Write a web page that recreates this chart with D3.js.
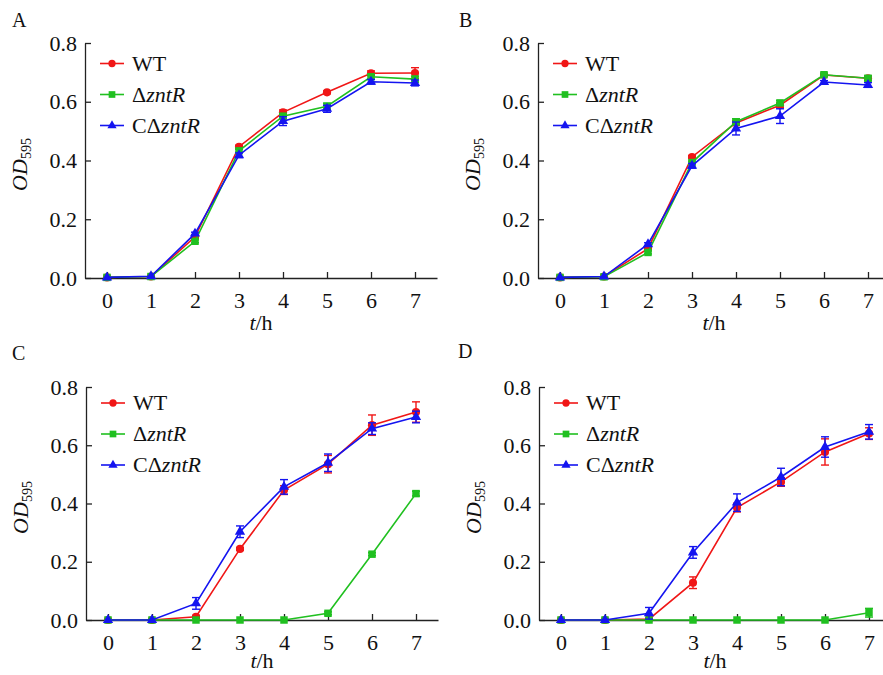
<!DOCTYPE html>
<html>
<head>
<meta charset="UTF-8">
</head>
<body style="margin:0">
<script src="https://d3js.org/d3.v7.min.js"></script>
<script>
// time points and series names
const hours = [0, 1, 2, 3, 4, 5, 6, 7];
const yTicks = [0, 0.2, 0.4, 0.6, 0.8];
const panelNames = ["A", "B", "C", "D"];

// panel A
const wtA   = [0.002, 0.005, 0.140, 0.447, 0.564, 0.632, 0.697, 0.698];
const wtAErr = [0, 0, 0.005, 0.005, 0.008, 0.005, 0.008, 0.018];
const dA    = [0.002, 0.005, 0.125, 0.433, 0.551, 0.585, 0.685, 0.677];
const dAErr = [0, 0, 0.005, 0.005, 0.008, 0.010, 0.008, 0.010];
const cA    = [0.002, 0.006, 0.151, 0.418, 0.534, 0.576, 0.668, 0.664];
const cAErr = [0, 0, 0.005, 0.008, 0.015, 0.012, 0.008, 0.010];

// panel B
const wtB   = [0.002, 0.005, 0.100, 0.412, 0.528, 0.588, 0.691, 0.680];
const wtBErr = [0, 0, 0.005, 0.005, 0.008, 0.008, 0.005, 0.008];
const dB    = [0.002, 0.004, 0.087, 0.393, 0.532, 0.596, 0.692, 0.680];
const dBErr = [0, 0, 0.005, 0.005, 0.010, 0.008, 0.005, 0.008];
const cB    = [0.002, 0.005, 0.115, 0.382, 0.509, 0.551, 0.667, 0.657];
const cBErr = [0, 0, 0.005, 0.008, 0.022, 0.025, 0.005, 0.008];

// panel C
const wtC   = [0, 0, 0.011, 0.244, 0.446, 0.535, 0.669, 0.714];
const wtCErr = [0, 0, 0.005, 0.005, 0.015, 0.030, 0.035, 0.035];
const dC    = [0, 0, 0, 0, 0, 0.023, 0.226, 0.434];
const dCErr = [0, 0, 0, 0, 0, 0.005, 0.005, 0.008];
const cC    = [0, 0, 0.057, 0.303, 0.457, 0.540, 0.657, 0.697];
const cCErr = [0, 0, 0.020, 0.020, 0.025, 0.030, 0.020, 0.020];

// panel D
const wtD   = [0, 0, 0.003, 0.128, 0.386, 0.474, 0.577, 0.640];
const wtDErr = [0, 0, 0.003, 0.020, 0.015, 0.015, 0.045, 0.020];
const dD    = [0, 0, 0, 0, 0, 0, 0, 0.025];
const dDErr = [0, 0, 0, 0, 0, 0, 0, 0.015];
const cD    = [0, 0, 0.023, 0.232, 0.403, 0.491, 0.594, 0.646];
const cDErr = [0, 0, 0.020, 0.020, 0.030, 0.030, 0.035, 0.025];

const panelData = [
  [[wtA, wtAErr], [dA, dAErr], [cA, cAErr]],
  [[wtB, wtBErr], [dB, dBErr], [cB, cBErr]],
  [[wtC, wtCErr], [dC, dCErr], [cC, cCErr]],
  [[wtD, wtDErr], [dD, dDErr], [cD, cDErr]]
];

const colors = ["#f01616", "#20c020", "#1414f0"];
const shapes = [d3.symbolCircle, d3.symbolSquare, d3.symbolTriangle];
const symSize = [52, 56, 46];
const fontFam = '"Liberation Serif", "Times New Roman", serif';

// layout: axis origin of each panel
const panels = [
  {left: 85,  top: 43,  h: 235, legTop: 63.5, xt: 52, label: [12, 27]},
  {left: 538, top: 43,  h: 235, legTop: 63.5, xt: 52, label: [459, 27]},
  {left: 86,  top: 387, h: 233, legTop: 403,  xt: 48, label: [12, 360]},
  {left: 539, top: 387, h: 233, legTop: 403,  xt: 48, label: [458, 358]}
];
const pw = 352;

const svg = d3.select("body").append("svg")
  .attr("width", 883).attr("height", 675)
  .attr("font-family", fontFam);

function txt(sel, size) {
  return sel.attr("font-family", fontFam).style("font-family", fontFam)
    .attr("font-size", size).attr("fill", "#111");
}

panels.forEach((p, pi) => {
  const ph = p.h;
  const g = svg.append("g").attr("transform", `translate(${p.left},${p.top})`);

  const x = d3.scaleLinear().domain([-0.5, 7.5]).range([0, pw]);
  const y = d3.scaleLinear().domain([0, 0.8]).range([ph, 0]);

  const xa = g.append("g")
    .attr("transform", `translate(0,${ph})`)
    .call(d3.axisBottom(x).tickValues(hours).tickSizeInner(-6).tickSizeOuter(0).tickPadding(14).tickFormat(d3.format("d")));

  const ya = g.append("g")
    .call(d3.axisLeft(y).tickValues(yTicks).tickSizeInner(-6).tickSizeOuter(0).tickPadding(8).tickFormat(d3.format(".1f")));

  [xa, ya].forEach(a => {
    a.attr("font-family", fontFam).attr("font-size", 22);
    a.selectAll("path, line").attr("stroke", "#222").attr("stroke-width", 1.3);
    txt(a.selectAll("text"), 22);
  });

  // axis titles
  const xt = txt(g.append("text"), 22)
    .attr("x", pw / 2).attr("y", ph + p.xt).attr("text-anchor", "middle");
  xt.append("tspan").style("font-style", "italic").text("t");
  xt.append("tspan").text("/h");

  const yt = txt(g.append("text"), 22)
    .attr("transform", `translate(${-58},${ph / 2 + 4}) rotate(-90)`)
    .attr("text-anchor", "middle");
  yt.append("tspan").style("font-style", "italic").text("OD");
  yt.append("tspan").attr("font-size", 14).attr("dy", 4).text("595");

  // panel letter
  txt(svg.append("text"), 20)
    .attr("x", p.label[0]).attr("y", p.label[1])
    .text(panelNames[pi]);

  const line = d3.line().x(d => x(d.t)).y(d => y(d.v));

  panelData[pi].forEach((s, si) => {
    const pts = hours.map((t, i) => ({t: t, v: s[0][i], e: s[1][i]}));
    const sg = g.append("g");
    sg.append("path").attr("d", line(pts))
      .attr("fill", "none").attr("stroke", colors[si]).attr("stroke-width", 1.6);

    // error bars
    const eb = sg.selectAll(".eb").data(pts.filter(d => d.e > 0.004)).enter().append("g")
      .attr("stroke", colors[si]).attr("stroke-width", 1.4);
    eb.append("line")
      .attr("x1", d => x(d.t)).attr("x2", d => x(d.t))
      .attr("y1", d => y(d.v - d.e)).attr("y2", d => y(d.v + d.e));
    [-1, 1].forEach(sgn => {
      eb.append("line")
        .attr("x1", d => x(d.t) - 4).attr("x2", d => x(d.t) + 4)
        .attr("y1", d => y(d.v + sgn * d.e)).attr("y2", d => y(d.v + sgn * d.e));
    });

    sg.selectAll(".pt").data(pts).enter().append("path")
      .attr("transform", d => `translate(${x(d.t)},${y(d.v)})`)
      .attr("d", d3.symbol().type(shapes[si]).size(symSize[si]))
      .attr("fill", colors[si]);
  });

  // legend
  const names = [["", "WT"], ["\u0394", "zntR"], ["C\u0394", "zntR"]];
  names.forEach((n, si) => {
    const ly = p.legTop - p.top + si * 31;
    const lg = g.append("g").attr("transform", `translate(0,${ly})`);
    lg.append("line").attr("x1", 15).attr("x2", 39).attr("y1", 0).attr("y2", 0)
      .attr("stroke", colors[si]).attr("stroke-width", 1.6);
    lg.append("path").attr("transform", "translate(27,0)")
      .attr("d", d3.symbol().type(shapes[si]).size(symSize[si] * 0.8))
      .attr("fill", colors[si]);
    const t = txt(lg.append("text"), 22).attr("x", 47).attr("y", 7);
    if (n[0]) t.append("tspan").text(n[0]);
    t.append("tspan").style("font-style", si === 0 ? "normal" : "italic").text(n[1]);
  });
});
</script>
</body>
</html>
